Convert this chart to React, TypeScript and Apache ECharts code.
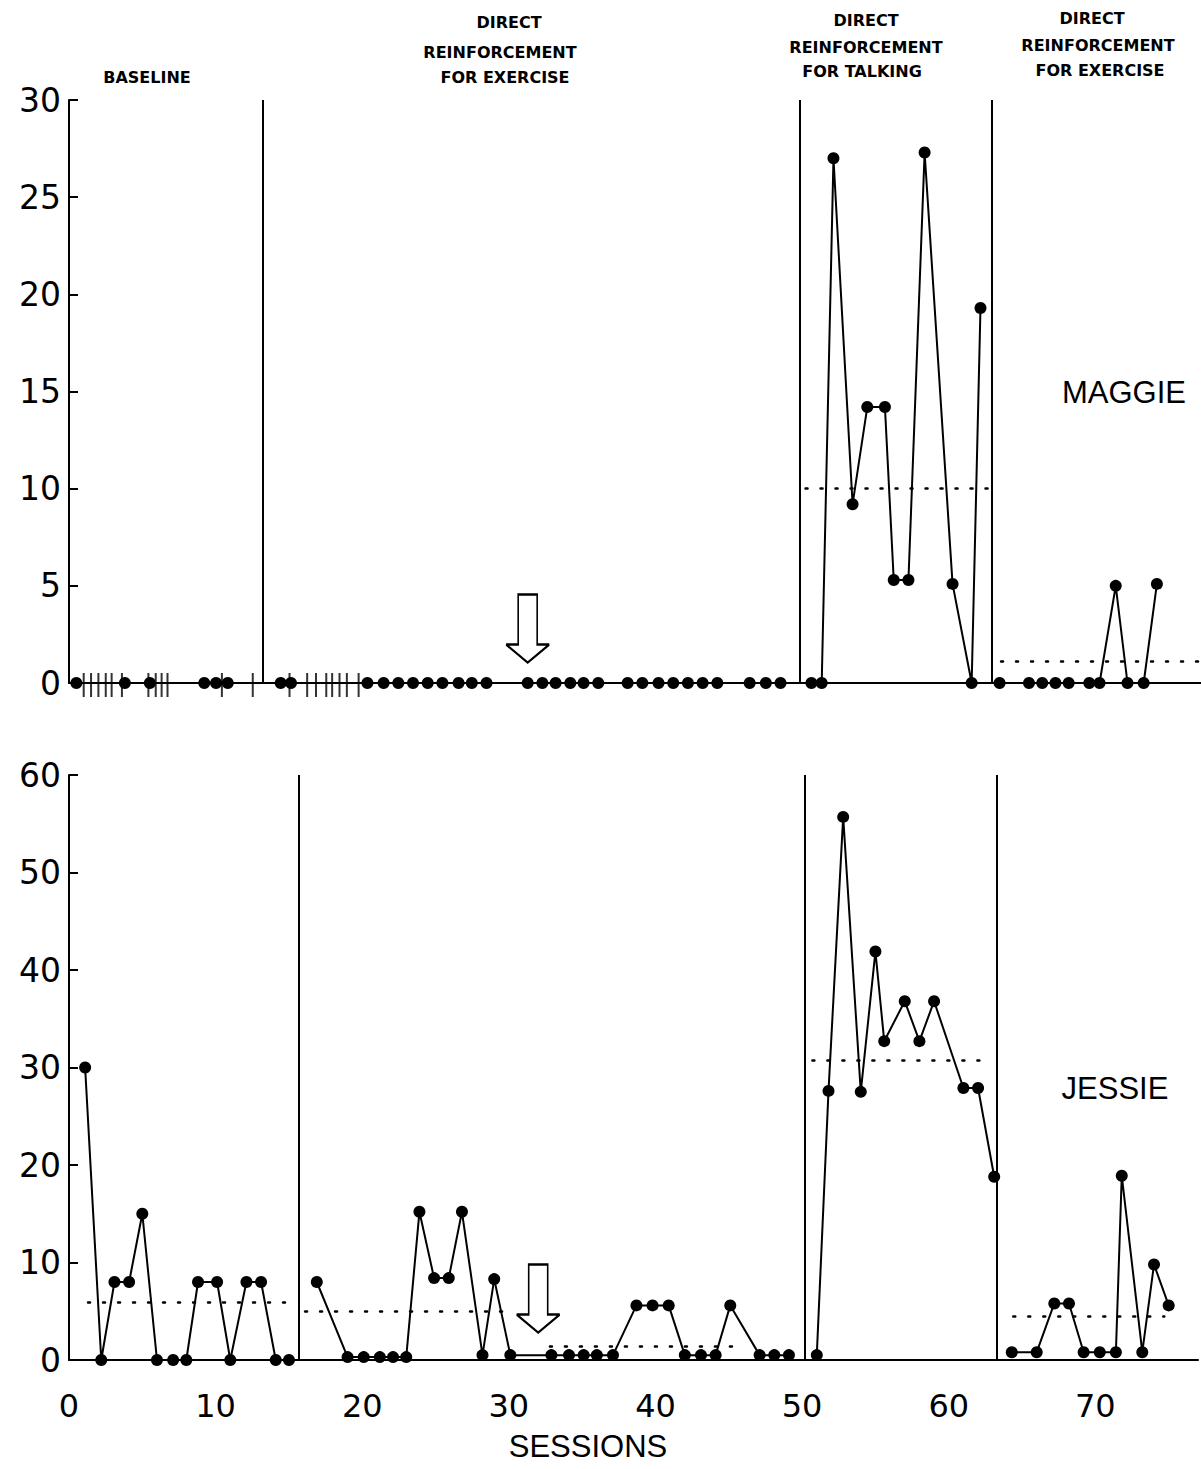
import React, { useEffect, useRef } from 'react';
import * as echarts from 'echarts';

// ---------- MAGGIE (top panel) ----------
const maggieBaseX = [0.5, 3.8, 5.5, 9.2, 10.0, 10.8];
const maggieBaseY = [0, 0, 0, 0, 0, 0];
const maggieAbsentX = [1.0, 1.5, 2.0, 2.5, 2.9, 3.6, 5.4, 5.9, 6.3, 6.7, 10.4, 12.5, 15.0, 16.2, 16.8, 17.5, 17.9, 18.4, 18.9, 19.7];
const maggieEx1X = [14.4, 15.1, 20.3, 21.4, 22.4, 23.4, 24.4, 25.4, 26.5, 27.4, 28.4, 31.2, 32.2, 33.1, 34.1, 35.0, 36.0, 38.0, 39.0, 40.1, 41.1, 42.1, 43.1, 44.1, 46.3, 47.4, 48.4];
const maggieEx1Y = [0, 0, 0, 0, 0, 0, 0, 0, 0, 0, 0, 0, 0, 0, 0, 0, 0, 0, 0, 0, 0, 0, 0, 0, 0, 0, 0];
const maggieTalkX = [50.5, 51.2, 52.0, 53.3, 54.3, 55.5, 56.1, 57.1, 58.2, 60.1, 61.4, 62.0];
const maggieTalkY = [0, 0, 27, 9.2, 14.2, 14.2, 5.3, 5.3, 27.3, 5.1, 0, 19.3];
const maggieEx2X = [63.3, 65.3, 66.2, 67.1, 68.0, 69.4, 70.1, 71.2, 72.0, 73.1, 74.0];
const maggieEx2Y = [0, 0, 0, 0, 0, 0, 0, 5.0, 0, 0, 5.1];
const maggiePhaseLines = [13.2, 49.7, 62.8];
const maggieMeanStart = [50.1, 63.4];
const maggieMeanEnd = [62.7, 77];
const maggieMeanValue = [10.0, 1.1];
const maggieArrow = [31.2, 2.8];

// ---------- JESSIE (bottom panel) ----------
const jessieBaseX = [1.1, 2.2, 3.1, 4.1, 5.0, 6.0, 7.1, 8.0, 8.8, 10.1, 11.0, 12.1, 13.1, 14.1, 15.0];
const jessieBaseY = [30, 0, 8, 8, 15, 0, 0, 0, 8, 8, 0, 8, 8, 0, 0];
const jessieEx1X = [16.9, 19.0, 20.1, 21.2, 22.1, 23.0, 23.9, 24.9, 25.9, 26.8, 28.2, 29.0, 30.1, 32.9, 34.1, 35.1, 36.0, 37.1, 38.7, 39.8, 40.9, 42.0, 43.1, 44.1, 45.1, 47.1, 48.1, 49.1];
const jessieEx1Y = [8, 0.3, 0.3, 0.3, 0.3, 0.3, 15.2, 8.4, 8.4, 15.2, 0.5, 8.3, 0.5, 0.5, 0.5, 0.5, 0.5, 0.5, 5.6, 5.6, 5.6, 0.5, 0.5, 0.5, 5.6, 0.5, 0.5, 0.5];
const jessieTalkX = [51.0, 51.8, 52.8, 54.0, 55.0, 55.6, 57.0, 58.0, 59.0, 61.0, 62.0, 63.1];
const jessieTalkY = [0.5, 27.6, 55.7, 27.5, 41.9, 32.7, 36.8, 32.7, 36.8, 27.9, 27.9, 18.8];
const jessieEx2X = [64.3, 66.0, 67.2, 68.2, 69.2, 70.3, 71.4, 71.8, 73.2, 74.0, 75.0];
const jessieEx2Y = [0.8, 0.8, 5.8, 5.8, 0.8, 0.8, 0.8, 18.9, 0.8, 9.8, 5.6];
const jessiePhaseLines = [15.7, 50.2, 63.3];
const jessieMeanStart = [1.3, 16.1, 32.8, 50.7, 64.4];
const jessieMeanEnd = [14.8, 30.1, 45.4, 62.9, 74.7];
const jessieMeanValue = [5.9, 5.0, 1.4, 30.7, 4.5];
const jessieArrow = [32.0, 6.3];

const xTicks = [0, 10, 20, 30, 40, 50, 60, 70];

const FONT = 'DejaVu Sans';
const INK = '#000';
const ARROW_PATH = 'path://M12,0 L31,0 L31,50 L43,50 L21.5,68 L0,50 L12,50 Z';

const pairs = (xs: number[], ys: number[]) => xs.map((x, i) => [x, ys[i]]);

const lineSeries = (xs: number[], ys: number[], g: number, extra: any = {}) => ({
  type: 'line',
  xAxisIndex: g,
  yAxisIndex: g,
  data: pairs(xs, ys),
  symbol: 'circle',
  symbolSize: 12,
  showSymbol: true,
  itemStyle: { color: INK },
  lineStyle: { color: INK, width: 2 },
  emphasis: { disabled: true },
  z: 5,
  ...extra,
});

const dotted = { color: INK, width: 2.5, type: [2, 13], cap: 'round' };
const solid = { color: INK, width: 2, type: 'solid' };

const markLines = (phases: number[], ms: number[], me: number[], mv: number[]) => ({
  symbol: 'none',
  silent: true,
  label: { show: false },
  emphasis: { disabled: true },
  data: [
    ...phases.map((p) => ({ xAxis: p, lineStyle: solid })),
    ...ms.map((s, i) => [
      { coord: [s, mv[i]], lineStyle: dotted },
      { coord: [me[i], mv[i]] },
    ]),
  ],
});

const arrowPoint = (pos: number[]) => ({
  silent: true,
  label: { show: false },
  data: [
    {
      coord: pos,
      symbol: ARROW_PATH,
      symbolSize: [43, 68],
      itemStyle: { color: '#fff', borderColor: INK, borderWidth: 2 },
    },
  ],
});

const header = (text: string, x: number, y: number) => ({
  type: 'text',
  x,
  y,
  style: {
    text,
    fill: INK,
    fontSize: 16,
    fontWeight: 'bold',
    fontFamily: FONT,
    align: 'center',
    verticalAlign: 'middle',
  },
});

const bigText = (text: string, x: number, y: number) => ({
  type: 'text',
  x,
  y,
  style: {
    text,
    fill: INK,
    fontSize: 31,
    fontFamily: 'Liberation Sans',
    align: 'center',
    verticalAlign: 'middle',
  },
});

const yAxisBase = (g: number, max: number, interval: number) => ({
  gridIndex: g,
  type: 'value',
  min: 0,
  max,
  interval,
  axisLine: { show: true, lineStyle: { color: INK, width: 2 } },
  axisTick: { show: true, inside: true, length: 9, lineStyle: { color: INK, width: 2 } },
  axisLabel: { color: INK, fontSize: 33, fontFamily: FONT, margin: 8 },
  splitLine: { show: false },
});

const xAxisBase = (g: number, showLabels: boolean) => ({
  gridIndex: g,
  type: 'value',
  min: 0,
  max: 77,
  interval: 10,
  axisLine: { show: true, onZero: false, lineStyle: { color: INK, width: 2 } },
  axisTick: { show: false },
  axisLabel: {
    show: showLabels,
    color: INK,
    fontSize: 32,
    fontFamily: FONT,
    margin: 30,
    formatter: (v: number) => (xTicks.includes(v) ? String(v) : ''),
  },
  splitLine: { show: false },
});

export default function App() {
  const ref = useRef<HTMLDivElement>(null);
  useEffect(() => {
    if (!ref.current) return;
    const chart = echarts.init(ref.current, undefined, { renderer: 'svg' });
    chart.setOption({
      animation: false,
      backgroundColor: '#fff',
      grid: [
        { left: 69, top: 100, width: 1132, height: 583 },
        { left: 69, top: 775, width: 1132, height: 585 },
      ],
      xAxis: [xAxisBase(0, false), xAxisBase(1, true)],
      yAxis: [yAxisBase(0, 30, 5), yAxisBase(1, 60, 10)],
      graphic: [
        header('BASELINE', 147, 77),
        header('DIRECT', 509, 22),
        header('REINFORCEMENT', 500, 52),
        header('FOR EXERCISE', 505, 77),
        header('DIRECT', 866, 20),
        header('REINFORCEMENT', 866, 47),
        header('FOR TALKING', 862, 71),
        header('DIRECT', 1092, 18),
        header('REINFORCEMENT', 1098, 45),
        header('FOR EXERCISE', 1100, 70),
        bigText('MAGGIE', 1124, 392),
        bigText('JESSIE', 1115, 1088),
        bigText('SESSIONS', 588, 1446),
      ],
      series: [
        lineSeries(maggieBaseX, maggieBaseY, 0, {
          markLine: markLines(maggiePhaseLines, maggieMeanStart, maggieMeanEnd, maggieMeanValue),
        }),
        {
          type: 'scatter',
          xAxisIndex: 0,
          yAxisIndex: 0,
          data: maggieAbsentX.map((x) => [x, 0]),
          symbol: 'rect',
          symbolSize: [2, 24],
          symbolOffset: [0, 2],
          itemStyle: { color: INK },
          emphasis: { disabled: true },
          z: 4,
        },
        lineSeries(maggieEx1X, maggieEx1Y, 0, { markPoint: arrowPoint(maggieArrow) }),
        lineSeries(maggieTalkX, maggieTalkY, 0),
        lineSeries(maggieEx2X, maggieEx2Y, 0),
        lineSeries(jessieBaseX, jessieBaseY, 1, {
          markLine: markLines(jessiePhaseLines, jessieMeanStart, jessieMeanEnd, jessieMeanValue),
        }),
        lineSeries(jessieEx1X, jessieEx1Y, 1, { markPoint: arrowPoint(jessieArrow) }),
        lineSeries(jessieTalkX, jessieTalkY, 1),
        lineSeries(jessieEx2X, jessieEx2Y, 1),
      ],
    });
    return () => chart.dispose();
  }, []);
  return (
    <div
      ref={ref}
      style={{ position: 'absolute', left: 0, top: 0, width: 1201, height: 1469, background: '#fff' }}
    />
  );
}
